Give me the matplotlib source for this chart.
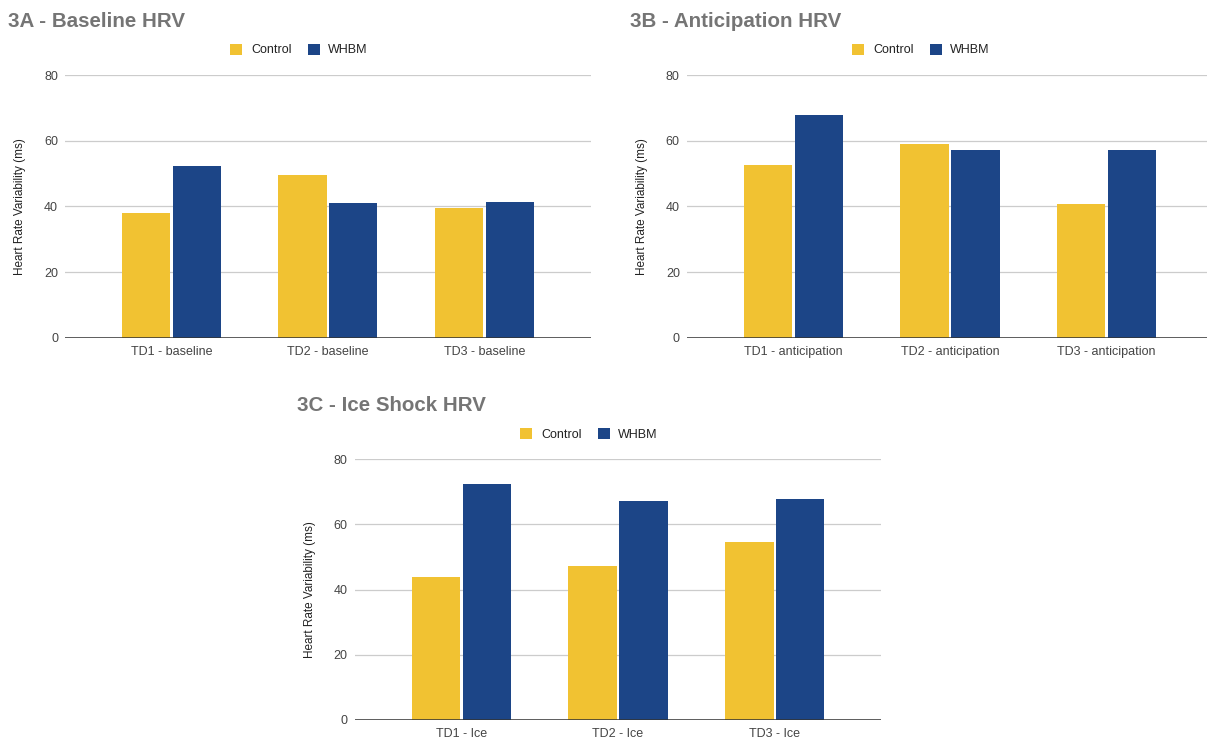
import matplotlib.pyplot as plt
from matplotlib.patches import Patch
import numpy as np

plt.rcParams['font.family'] = ['Liberation Sans', 'DejaVu Sans']

series_names = ["Control", "WHBM"]

baseline_labels = ["TD1 - baseline", "TD2 - baseline", "TD3 - baseline"]
baseline_control = [38.0, 49.6, 39.5]
baseline_whbm = [52.2, 40.9, 41.3]

anticipation_labels = ["TD1 - anticipation", "TD2 - anticipation", "TD3 - anticipation"]
anticipation_control = [52.5, 58.9, 40.8]
anticipation_whbm = [67.7, 57.2, 57.2]

ice_labels = ["TD1 - Ice", "TD2 - Ice", "TD3 - Ice"]
ice_control = [43.7, 47.2, 54.6]
ice_whbm = [72.2, 67.1, 67.7]

YELLOW = "#f1c232"
NAVY = "#1c4587"
W, H = 1207, 738

fig = plt.figure(figsize=(W / 100, H / 100), dpi=100)


def px_axes(left, right, top, bottom):
    # axes box given in pixel coordinates (origin top-left)
    return fig.add_axes([left / W, 1 - bottom / H, (right - left) / W, (bottom - top) / H])


def bar_panel(ax, labels, control, whbm, title, title_x, title_base, leg_x, leg_y):
    x = np.arange(len(labels))
    ax.bar(x - 0.1625, control, 0.309, color=YELLOW, zorder=3)
    ax.bar(x + 0.1625, whbm, 0.309, color=NAVY, zorder=3)
    ax.set_xlim(-0.68, 2.68)
    ax.set_ylim(0, 80)
    ax.set_yticks([0, 20, 40, 60, 80])
    ax.set_xticks(x)
    ax.set_xticklabels(labels)
    ax.grid(axis="y", color="#cccccc", linewidth=0.9, zorder=0)
    for s in ax.spines.values():
        s.set_visible(False)
    ax.axhline(0, color="#333333", linewidth=1.1, zorder=4)
    ax.tick_params(axis="both", length=0, labelsize=9, labelcolor="#444444")
    ax.tick_params(axis="y", pad=5)
    ax.tick_params(axis="x", pad=6)
    ax.set_ylabel("Heart Rate Variability (ms)", fontsize=8.5, color="#222222", labelpad=13)
    fig.text(title_x / W, 1 - title_base / H, title, fontsize=14.8, fontweight="bold",
             color="#757575", ha="left", va="baseline")
    handles = [Patch(facecolor=YELLOW, edgecolor="none"), Patch(facecolor=NAVY, edgecolor="none")]
    fig.legend(handles, series_names, loc="center", bbox_to_anchor=(leg_x / W, 1 - leg_y / H),
               ncol=2, frameon=False, fontsize=9, handlelength=0.96, handleheight=0.96,
               handletextpad=0.7, columnspacing=1.28, borderpad=0, labelcolor="#222222")


ax_a = px_axes(65, 590.7, 75, 337.7)
bar_panel(ax_a, baseline_labels, baseline_control, baseline_whbm,
          "3A - Baseline HRV", 8, 26.7, 299, 50)

ax_b = px_axes(686.8, 1213, 75, 337.7)
bar_panel(ax_b, anticipation_labels, anticipation_control, anticipation_whbm,
          "3B - Anticipation HRV", 630, 26.7, 921, 50)

ax_c = px_axes(354.7, 881.4, 459, 720)
bar_panel(ax_c, ice_labels, ice_control, ice_whbm,
          "3C - Ice Shock HRV", 297, 410.7, 589, 434.5)

fig.savefig("out.png", dpi=100)
